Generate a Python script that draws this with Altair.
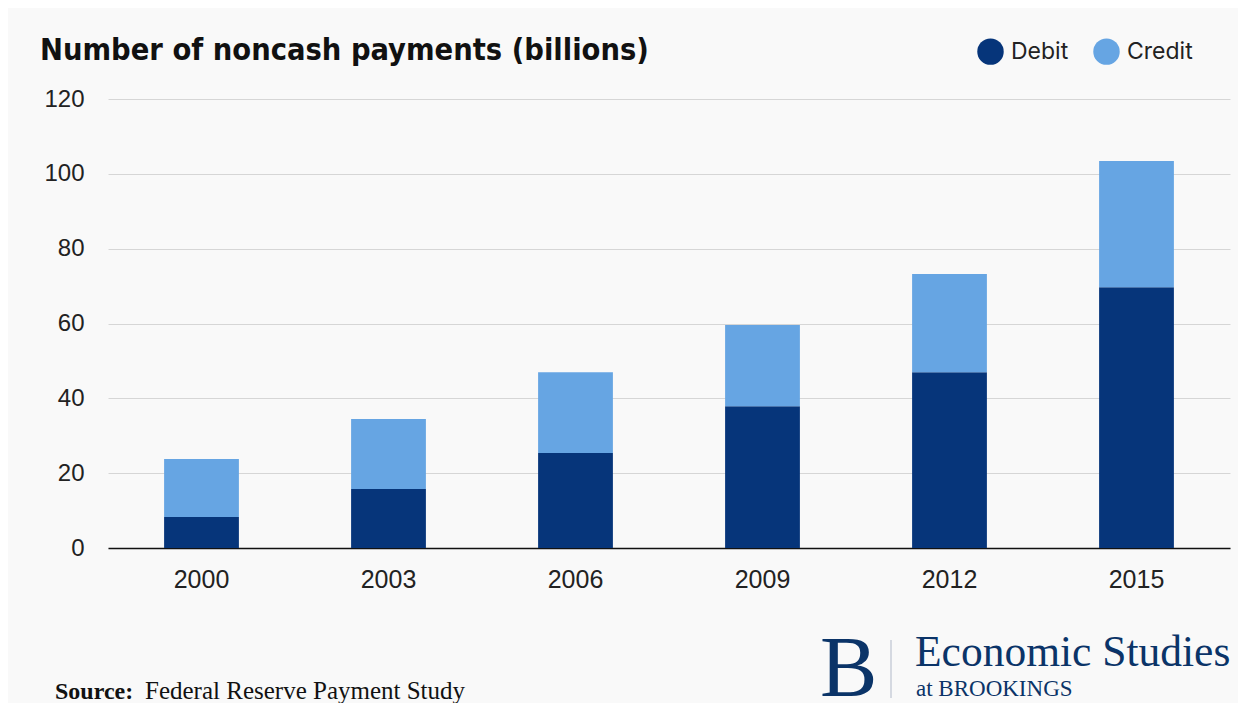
import altair as alt
import pandas as pd

years = ["2000", "2003", "2006", "2009", "2012", "2015"]
debit = [8.3, 15.8, 25.4, 37.9, 47.0, 69.7]
credit = [15.5, 18.7, 21.6, 21.7, 26.2, 33.7]
series = ["Debit", "Credit"]
colors = ["#06357a", "#66a5e3"]

rows = []
for i, y in enumerate(years):
    rows.append({"year": y, "type": "Debit", "value": debit[i], "ord": 0})
    rows.append({"year": y, "type": "Credit", "value": credit[i], "ord": 1})
df = pd.DataFrame(rows)

one = pd.DataFrame({"k": [0]})

SERIF = "Liberation Serif"
NAVY = "#0b3468"
AXF = "Liberation Sans"

bars = alt.Chart(df).mark_bar().encode(
    x=alt.X("year:N", sort=years, title=None,
            scale=alt.Scale(paddingInner=0.6, paddingOuter=0.3),
            axis=alt.Axis(labelAngle=0, labelFontSize=25, labelColor="#222222",
                          labelFont=AXF, ticks=False, labelPadding=19,
                          domainColor="#111111", domainWidth=1.5, grid=False)),
    y=alt.Y("value:Q", title=None,
            scale=alt.Scale(domain=[0, 120], nice=False),
            axis=alt.Axis(values=[0, 20, 40, 60, 80, 100, 120], labelFontSize=24,
                          labelColor="#222222", labelFont=AXF,
                          ticks=False, domain=False, labelPadding=24,
                          gridColor="#d6d6d6", gridWidth=1)),
    color=alt.Color("type:N", sort=series,
                    scale=alt.Scale(domain=series, range=colors),
                    legend=alt.Legend(title=None, orient="none", legendX=869, legendY=-61,
                                      direction="horizontal", symbolType="circle",
                                      symbolSize=700, symbolStrokeWidth=0,
                                      labelFontSize=23, labelFont="Inter",
                                      labelColor="#222222", labelOffset=7,
                                      columnPadding=24)),
    order=alt.Order("ord:Q"),
)

def txt(text, x, y, size, font, weight="normal", color="#111111", align="left"):
    return alt.Chart(one).mark_text(
        text=text, fontSize=size, font=font, fontWeight=weight, color=color,
        align=align, baseline="alphabetic"
    ).encode(x=alt.value(x), y=alt.value(y))

title = txt("Number of noncash payments (billions)", -68, -39, 30.5,
            "'DejaVu Sans Condensed', 'Liberation Sans'", "bold")
src1 = txt("Source:", -53, 600, 24, SERIF, "bold")
src2 = txt("Federal Reserve Payment Study", 37, 600, 25, SERIF)
logoB = txt("B", 712, 597, 86, SERIF, color=NAVY)
econ = txt("Economic Studies", 807, 567, 43.5, SERIF, color=NAVY)
brook = txt("at BROOKINGS", 808, 597, 23, SERIF, color=NAVY)
divider = alt.Chart(one).mark_rule(color="#c9ced8", strokeWidth=1.5).encode(
    x=alt.value(783), y=alt.value(541), y2=alt.value(599))

chart = alt.layer(bars, title, src1, src2, logoB, econ, brook, divider).properties(
    width=1122, height=449,
    autosize=alt.AutoSizeParams(type="none"),
    padding={"left": 100, "top": 91, "right": 8, "bottom": 155},
    background="#f9f9f9",
).configure_view(stroke=None)

chart.save("out.html", embed_options={"renderer": "svg", "actions": False})
